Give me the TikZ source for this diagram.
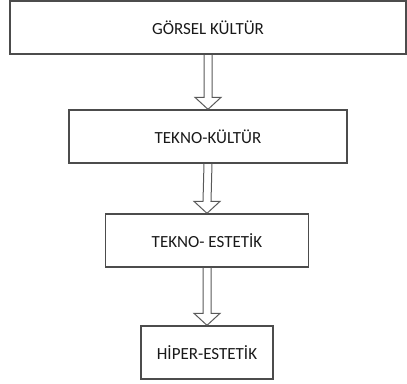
\documentclass[tikz,border=0pt]{standalone}
\usepackage{fontspec}
\setmainfont{Carlito}
\usetikzlibrary{calc}

\begin{document}
\begin{tikzpicture}[x=1pt,y=1pt,
		kutu/.style={draw=black!70,line width=1.3pt,minimum height=53pt,inner sep=0pt,
			font=\fontsize{17}{20}\selectfont,text=black!90},
		okblok/.style={draw=black!65,line width=1pt,to path={
			($(\tikztostart)+(-4,0)$) -- ($(\tikztotarget)+(-4,12)$) --
			($(\tikztotarget)+(-13,12)$) -- (\tikztotarget) --
			($(\tikztotarget)+(13,12)$) -- ($(\tikztotarget)+(4,12)$) --
			($(\tikztostart)+(4,0)$)}}]
			\useasboundingbox (0,0) rectangle (407,383);
			\node[kutu,minimum width=396pt] (gorsel) at (208,355.5) {GÖRSEL KÜLTÜR};
			\node[kutu,minimum width=278pt] (tekno) at (208,246.5) {TEKNO-KÜLTÜR};
			\node[kutu,minimum width=203pt] (estetik) at (207,142.5) {TEKNO- ESTETİK};
			\node[kutu,minimum width=132pt] (hiper) at (207,30.5) {HİPER-ESTETİK};

			\draw[okblok] (gorsel.south) to (tekno.north);
			\draw[okblok] (tekno.south) to (estetik.north);
			\draw[okblok] (estetik.south) to (hiper.north);
			\end{tikzpicture}
\end{document}
